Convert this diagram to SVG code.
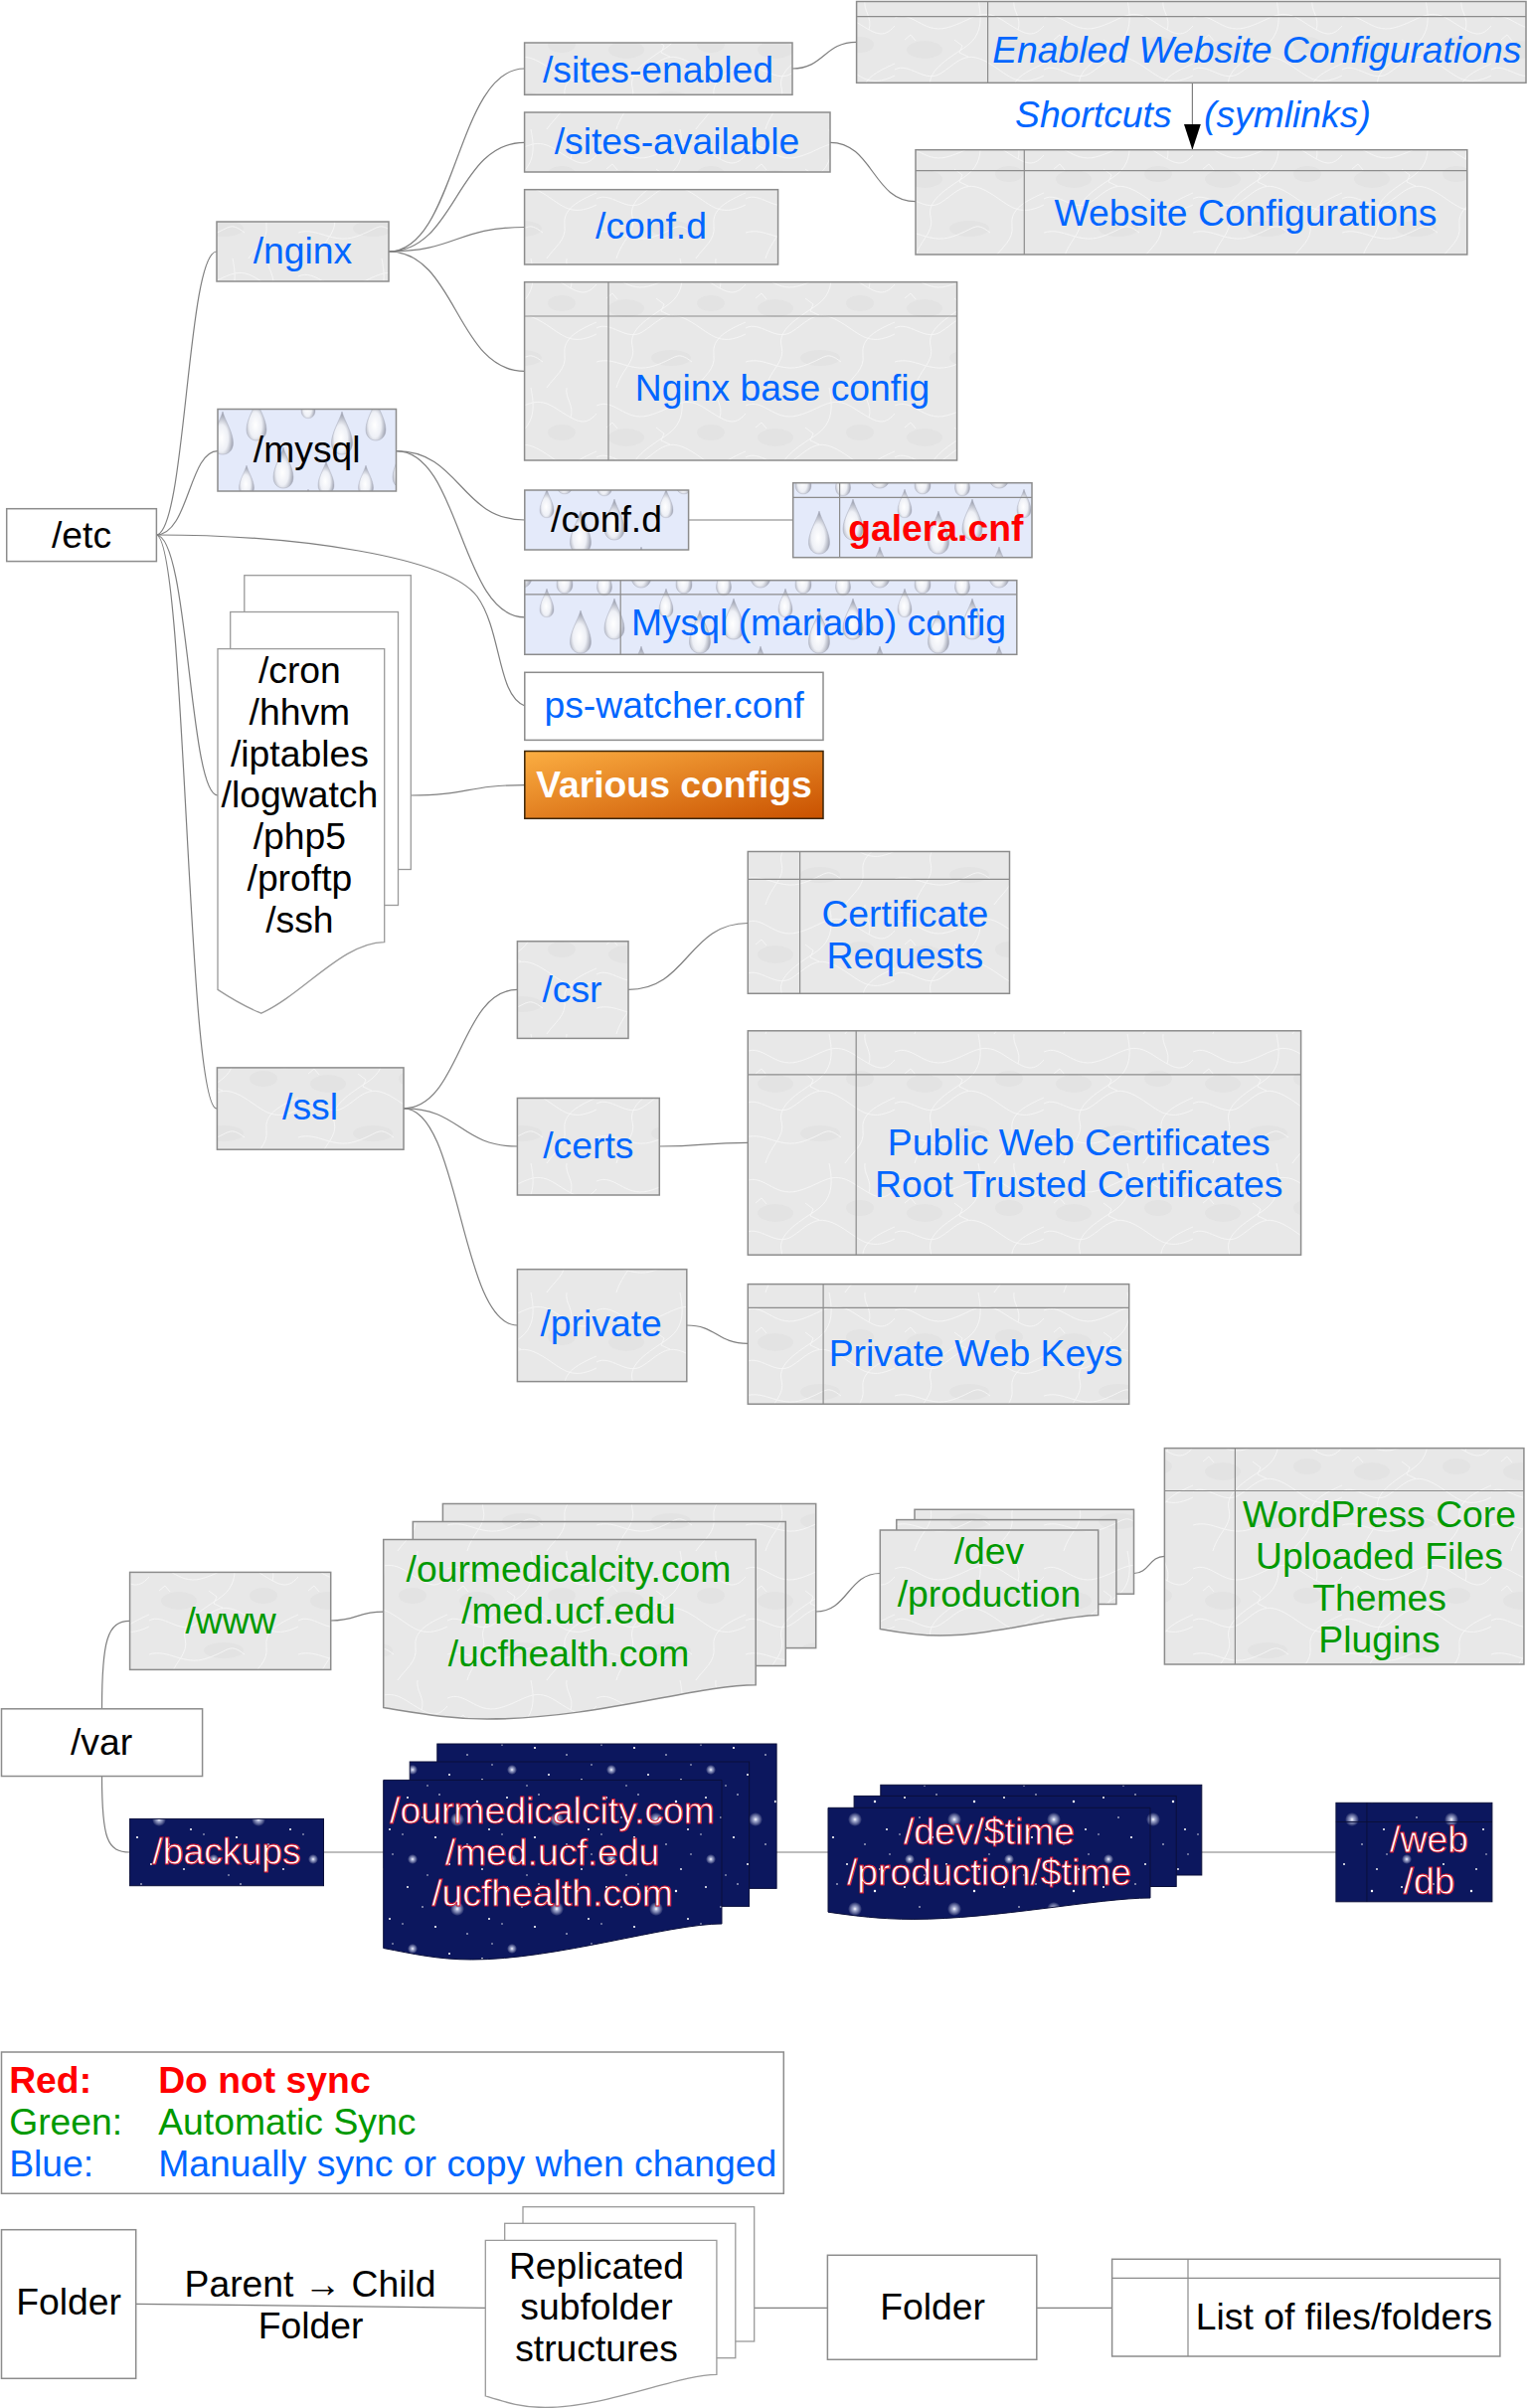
<svg xmlns="http://www.w3.org/2000/svg" width="1537" height="2422" viewBox="0 0 1537 2422">
<defs>
<style>
.t{font-family:"Liberation Sans",Arial,sans-serif;font-size:37.3px;text-anchor:middle}
.st{text-anchor:start}
.bl{fill:#0066ff}
.gr{fill:#009900}
.rd{fill:#ff0000}
.bk{fill:#000}
.wh{fill:#fff}
.it{font-style:italic}
.bd{font-weight:bold}
.ol{fill:#fff;stroke:#d0102c;stroke-width:0.9px}
.box{stroke:#8c8c8c;stroke-width:1.5}
.m{fill:url(#marble)}
.d{fill:url(#drops)}
.w{fill:#fff}
.s{fill:url(#stars);stroke:#0a0f3a;stroke-width:1}
.ln{fill:none;stroke:#8c8c8c;stroke-width:1.2}
.sln{fill:none;stroke:#0a0f3a;stroke-width:1}
.pg{fill:#fff;stroke:#9a9a9a;stroke-width:1.3}
.c{fill:none;stroke:#7f7f7f;stroke-width:1.2}
</style>
<pattern id="marble" patternUnits="userSpaceOnUse" width="150" height="130">
<rect width="150" height="130" fill="#e8e8e8"/>
<g fill="#dedede" opacity="0.5">
<ellipse cx="30" cy="50" rx="18" ry="9"/>
<ellipse cx="115" cy="45" rx="14" ry="8"/>
<ellipse cx="75" cy="100" rx="20" ry="8"/>
</g>
<g fill="none" stroke="#f7f7f7" stroke-width="1" opacity="0.85">
<path d="M0,18 C18,10 28,34 52,28 S86,6 108,20 S138,40 150,26"/>
<path d="M0,70 C14,62 30,84 46,74 S70,50 92,62 S122,90 150,76"/>
<path d="M20,130 C26,110 40,104 36,88 S52,60 70,48 S88,20 84,0"/>
<path d="M100,130 C108,118 120,112 118,96 S132,72 150,64"/>
<path d="M0,104 C20,98 34,116 58,108 S80,92 96,104"/>
<path d="M120,0 C118,10 128,18 124,30"/>
<path d="M60,40 l8,6 l-3,7 l9,4"/>
<path d="M10,40 l6,-5 l5,6"/>
</g>
</pattern>
<radialGradient id="dg" cx="0.45" cy="0.62" r="0.62">
<stop offset="0" stop-color="#ffffff"/>
<stop offset="0.5" stop-color="#eef0f6"/>
<stop offset="1" stop-color="#8a8fa0"/>
</radialGradient>
<path id="drop" d="M0,0 C2.8,10 10,20 10,30 C10,37 5.5,41 0,41 C-5.5,41 -10,37 -10,30 C-10,20 -2.8,10 0,0Z" fill="url(#dg)" stroke="#a8acbc" stroke-width="0.5"/>
<pattern id="drops" patternUnits="userSpaceOnUse" width="120" height="100">
<rect width="120" height="100" fill="#e4eafa"/>
<use href="#drop" x="18" y="2"/>
<use href="#drop" transform="translate(70,-8) scale(0.7)"/>
<use href="#drop" transform="translate(104,14) scale(1.05)"/>
<use href="#drop" transform="translate(45,50)"/>
<use href="#drop" transform="translate(88,64) scale(0.8)"/>
<use href="#drop" transform="translate(8,68) scale(0.75)"/>
<use href="#drop" transform="translate(70,92) scale(0.7)"/>
</pattern>
<radialGradient id="glow">
<stop offset="0" stop-color="#ffffff" stop-opacity="1"/>
<stop offset="0.3" stop-color="#dfe6ff" stop-opacity="0.7"/>
<stop offset="1" stop-color="#ffffff" stop-opacity="0"/>
</radialGradient>
<pattern id="stars" patternUnits="userSpaceOnUse" width="100" height="90">
<rect width="100" height="90" fill="#0c175e"/>
<circle cx="60" cy="30" r="7" fill="url(#glow)"/>
<circle cx="15" cy="70" r="5" fill="url(#glow)"/>
<g fill="#fff">
<circle cx="10" cy="8" r="1"/><circle cx="42" cy="5" r="0.8"/><circle cx="80" cy="12" r="1.2"/>
<circle cx="25" cy="28" r="0.8"/><circle cx="92" cy="40" r="1"/><circle cx="38" cy="48" r="1.1"/>
<circle cx="70" cy="55" r="0.8"/><circle cx="5" cy="45" r="0.7"/><circle cx="52" cy="75" r="1"/>
<circle cx="85" cy="80" r="0.9"/><circle cx="30" cy="86" r="0.7"/><circle cx="95" cy="65" r="0.7"/>
</g>
</pattern>
<linearGradient id="orange" x1="0" y1="0" x2="1" y2="1">
<stop offset="0" stop-color="#fbae42"/>
<stop offset="1" stop-color="#c95100"/>
</linearGradient>
<marker id="arr" markerUnits="userSpaceOnUse" markerWidth="27" markerHeight="18" refX="26" refY="8.5" orient="auto">
<path d="M0,0 L26,8.5 L0,17 Z" fill="#000"/>
</marker>
</defs>
<rect width="1537" height="2422" fill="#fff"/>

<g id="connectors">
<path class="c" d="M157,538 C187,538 188,253 218,253"/>
<path class="c" d="M157,538 C190,538 190,453.6 219,453.6"/>
<path class="c" d="M157,538 C300,538 450,560 480,600 C505,635 500,700 528,710"/>
<path class="c" d="M157,538 C190,538 190,800 219,800"/>
<path class="c" d="M157,538 C187,538 188,1115 218,1115"/>
<path class="c" d="M391,253 C459,253 459,69 527.6,69"/>
<path class="c" d="M391,253 C459,253 459,143.3 527.6,143.3"/>
<path class="c" d="M391,253 C459,253 459,228.5 527.6,228.5"/>
<path class="c" d="M391,253 C459,253 459,373.3 527.6,373.3"/>
<path class="c" d="M797,69 C829,69 829,42.3 861.6,42.3"/>
<path class="c" d="M835,143.3 C878,143.3 878,202.7 921,202.7"/>
<path class="c" d="M1199.4,83.3 V150.7" stroke="#444" marker-end="url(#arr)"/>
<path class="c" d="M398.5,453.6 C463,453.6 463,523 527.8,523"/>
<path class="c" d="M398.5,453.6 C463,453.6 463,620.8 527.8,620.8"/>
<path class="c" d="M692.6,523 H797.7"/>
<path class="c" d="M413.3,800 C470,800 470,789.6 527.8,789.6"/>
<path class="c" d="M406,1114.8 C463,1114.8 463,995.4 520.4,995.4"/>
<path class="c" d="M406,1114.8 C463,1114.8 463,1153 520.4,1153"/>
<path class="c" d="M406,1114.8 C463,1114.8 463,1333 520.4,1333"/>
<path class="c" d="M632,995.4 C692,995.4 692,928.5 752.3,928.5"/>
<path class="c" d="M663.3,1153 C708,1153 708,1149.3 752.3,1149.3"/>
<path class="c" d="M690.8,1333 C721,1333 721,1351.3 752.3,1351.3"/>
<path class="c" d="M102.5,1718.8 C102.5,1650 108,1630.4 130.6,1630.4"/>
<path class="c" d="M102.5,1786.5 C102.5,1850 108,1863 130.6,1863"/>
<path class="c" d="M332.7,1630 C359,1630 359,1621.2 385.7,1621.2"/>
<path class="c" d="M325.5,1863 H385.7"/>
<path class="c" d="M820.7,1621 C853,1621 853,1582.5 885.3,1582.5"/>
<path class="c" d="M1140.5,1582.5 C1156,1582.5 1156,1565.3 1171.4,1565.3"/>
<path class="c" d="M781,1863 H833"/>
<path class="c" d="M1208.8,1863 H1343.9"/>
<path class="c" d="M136.7,2317.3 L488.3,2321.3"/>
<path class="c" d="M758.7,2321.3 H832.4"/>
<path class="c" d="M1042.8,2321.3 H1118.6"/>
<text class="t it bl st" x="1021" y="128">Shortcuts</text>
<text class="t it bl st" x="1211" y="128">(symlinks)</text>
<text class="t bk" x="312" y="2310">Parent → Child</text>
<text class="t bk" x="312.5" y="2351.7">Folder</text>
</g>

<g id="node-sites-enabled">
<rect class="m box" x="527.6" y="43" width="269.4" height="52.3"/>
<text class="t bl" x="662" y="82.7">/sites-enabled</text>
</g>
<g id="node-sites-available">
<rect class="m box" x="527.6" y="113" width="307.4" height="60"/>
<text class="t bl" x="681" y="155">/sites-available</text>
</g>
<g id="node-nginx-confd">
<rect class="m box" x="527.6" y="190.7" width="255" height="75.3"/>
<text class="t bl" x="655" y="240">/conf.d</text>
</g>
<g id="node-nginx-base">
<rect class="m box" x="527.6" y="283.7" width="435" height="179.3"/>
<path class="ln" d="M527.6,318 H962.6 M612,283.7 V463"/>
<text class="t bl" x="787" y="403.3">Nginx base config</text>
</g>
<g id="node-enabled-configs">
<rect class="m box" x="861.6" y="1.5" width="673.4" height="81.8"/>
<path class="ln" d="M861.6,16.7 H1535 M993.6,1.5 V83.3"/>
<text class="t it bl" x="1264.3" y="62.5">Enabled Website Configurations</text>
</g>
<g id="node-website-configs">
<rect class="m box" x="921" y="150.7" width="554.8" height="105.3"/>
<path class="ln" d="M921,171.7 H1475.8 M1030.3,150.7 V256"/>
<text class="t bl" x="1253" y="226.7">Website Configurations</text>
</g>
<g id="node-nginx">
<rect class="m box" x="218" y="223" width="173" height="60"/>
<text class="t bl" x="304.5" y="265">/nginx</text>
</g>
<g id="node-mysql">
<rect class="d box" x="219" y="411.5" width="179.5" height="82.5"/>
<text class="t bk" x="308.7" y="465">/mysql</text>
</g>
<g id="node-etc">
<rect class="w box" x="6.7" y="511.7" width="150.7" height="52.9"/>
<text class="t bk" x="82" y="551.2">/etc</text>
</g>
<g id="node-mysql-confd">
<rect class="d box" x="527.8" y="493" width="164.8" height="60"/>
<text class="t bk" x="610" y="534.7">/conf.d</text>
</g>
<g id="node-galera">
<rect class="d box" x="797.7" y="485.7" width="240.3" height="75"/>
<path class="ln" d="M797.7,500.3 H1038 M844.6,485.7 V560.7"/>
<text class="t bd rd" x="941.3" y="543.5">galera.cnf</text>
</g>
<g id="node-mysql-config">
<rect class="d box" x="527.8" y="583.7" width="495" height="74.6"/>
<path class="ln" d="M527.8,597.9 H1022.8 M624.2,583.7 V658.3"/>
<text class="t bl" x="823.5" y="639">Mysql (mariadb) config</text>
</g>
<g id="node-ps-watcher">
<rect class="w box" x="527.8" y="676.3" width="300.2" height="68.1"/>
<text class="t bl" x="678" y="721.5">ps-watcher.conf</text>
</g>
<g id="node-various">
<rect x="527.8" y="755.5" width="300.2" height="67.8" fill="url(#orange)" stroke="#3b2508" stroke-width="1.5"/>
<text class="t bd wh" x="678" y="801.8">Various configs</text>
</g>
<g id="node-various-stack">
<rect class="pg" x="245.8" y="578.7" width="167.5" height="295.8"/>
<rect class="pg" x="231.7" y="615.5" width="168.8" height="295"/>
<path class="pg" d="M219,652.6 H386.7 V947.6 C345,947.6 305,1000 262.8,1019.2 C250,1014 232,1004 219,995.4 Z"/>
<text class="t bk" x="301.4" y="687">/cron</text>
<text class="t bk" x="301.4" y="728.8">/hhvm</text>
<text class="t bk" x="301.4" y="770.6">/iptables</text>
<text class="t bk" x="301.4" y="812.4">/logwatch</text>
<text class="t bk" x="301.4" y="854.2">/php5</text>
<text class="t bk" x="301.4" y="896">/proftp</text>
<text class="t bk" x="301.4" y="937.8">/ssh</text>
</g>
<g id="node-ssl">
<rect class="m box" x="218.4" y="1073.9" width="187.6" height="82.3"/>
<text class="t bl" x="312" y="1126.3">/ssl</text>
</g>
<g id="node-csr">
<rect class="m box" x="520.4" y="946.8" width="111.6" height="97.6"/>
<text class="t bl" x="575.5" y="1007.7">/csr</text>
</g>
<g id="node-certs">
<rect class="m box" x="520.4" y="1104.5" width="142.9" height="97.5"/>
<text class="t bl" x="591.8" y="1164.6">/certs</text>
</g>
<g id="node-private">
<rect class="m box" x="520.4" y="1276.7" width="170.4" height="112.9"/>
<text class="t bl" x="604.6" y="1344.4">/private</text>
</g>
<g id="node-cert-requests">
<rect class="m box" x="752.3" y="856.5" width="263.2" height="142.8"/>
<path class="ln" d="M752.3,884.4 H1015.5 M804.6,856.5 V999.3"/>
<text class="t bl" x="910.4" y="932.3">Certificate</text>
<text class="t bl" x="910.4" y="974.4">Requests</text>
</g>
<g id="node-public-certs">
<rect class="m box" x="752.3" y="1036.8" width="556.3" height="225.4"/>
<path class="ln" d="M752.3,1080.8 H1308.6 M861.2,1036.8 V1262.2"/>
<text class="t bl" x="1085.2" y="1161.9">Public Web Certificates</text>
<text class="t bl" x="1085.2" y="1204">Root Trusted Certificates</text>
</g>
<g id="node-private-keys">
<rect class="m box" x="752.3" y="1291.6" width="383.4" height="120.6"/>
<path class="ln" d="M752.3,1315.4 H1135.7 M828.1,1291.6 V1412.2"/>
<text class="t bl" x="981.6" y="1374.3">Private Web Keys</text>
</g>
<g id="node-var">
<rect class="w box" x="1.5" y="1718.8" width="202.1" height="67.7"/>
<text class="t bk" x="102" y="1764.7">/var</text>
</g>
<g id="node-www">
<rect class="m box" x="130.6" y="1581.4" width="202.1" height="98"/>
<text class="t gr" x="232" y="1643">/www</text>
</g>
<g id="node-sites-stack">
<rect class="m box" x="445.4" y="1512.5" width="375.3" height="145.1"/>
<rect class="m box" x="415.3" y="1530.5" width="375" height="145"/>
<path class="m box" d="M385.7,1548.5 H760.2 V1694.7 C700,1694.7 600,1729 490,1729 C450,1729 420,1723 385.7,1717.6 Z"/>
<text class="t gr" x="572" y="1591.4">/ourmedicalcity.com</text>
<text class="t gr" x="572" y="1633.4">/med.ucf.edu</text>
<text class="t gr" x="572" y="1675.5">/ucfhealth.com</text>
</g>
<g id="node-env-stack">
<rect class="m box" x="920" y="1518.3" width="220.5" height="84.9"/>
<rect class="m box" x="901.8" y="1528.6" width="221.1" height="84.9"/>
<path class="m box" d="M885.3,1538.9 H1104.7 V1624.6 C1070,1624.6 1000,1645 945.6,1645 C925,1645 905,1642 885.3,1638.4 Z"/>
<text class="t gr" x="995" y="1573.4">/dev</text>
<text class="t gr" x="995" y="1615.5">/production</text>
</g>
<g id="node-wordpress">
<rect class="m box" x="1171.4" y="1456.6" width="361.5" height="217.4"/>
<path class="ln" d="M1171.4,1499.5 H1532.9 M1242.4,1456.6 V1674"/>
<text class="t gr" x="1387.5" y="1535.9">WordPress Core</text>
<text class="t gr" x="1387.5" y="1578">Uploaded Files</text>
<text class="t gr" x="1387.5" y="1620">Themes</text>
<text class="t gr" x="1387.5" y="1662.1">Plugins</text>
</g>
<g id="node-backups">
<rect class="s" x="130.6" y="1829.4" width="194.9" height="67.3"/>
<text class="t ol" x="228" y="1875">/backups</text>
</g>
<g id="node-backup-sites-stack">
<rect class="s" x="439.8" y="1754" width="341.3" height="145.4"/>
<rect class="s" x="412.2" y="1772" width="341.4" height="145.4"/>
<path class="s" d="M385.7,1790.4 H726 V1935 C672,1935 560,1971 474.5,1971 C440,1971 415,1965 385.7,1959.5 Z"/>
<text class="t ol" x="555.5" y="1833.6">/ourmedicalcity.com</text>
<text class="t ol" x="555.5" y="1875.7">/med.ucf.edu</text>
<text class="t ol" x="555.5" y="1917.4">/ucfhealth.com</text>
</g>
<g id="node-backup-time-stack">
<rect class="s" x="885.8" y="1795.3" width="323" height="90.7"/>
<rect class="s" x="859.1" y="1806.4" width="324.1" height="91.1"/>
<path class="s" d="M833,1818.3 H1157 V1909 C1105,1909 1000,1930.4 918.9,1930.4 C885,1930.4 860,1927 833,1923.2 Z"/>
<text class="t ol" x="995" y="1854.6">/dev/$time</text>
<text class="t ol" x="995" y="1895.6">/production/$time</text>
</g>
<g id="node-web-db">
<rect class="s" x="1343.9" y="1813.3" width="157" height="99.5"/>
<path class="sln" d="M1343.9,1832.5 H1500.9 M1374.9,1813.3 V1912.8"/>
<text class="t ol" x="1437.5" y="1863">/web</text>
<text class="t ol" x="1437.5" y="1905.2">/db</text>
</g>
<g id="legend-colors">
<rect class="w box" x="1.5" y="2064" width="786.8" height="142.3"/>
<text class="t st rd bd" x="9.2" y="2105">Red:</text>
<text class="t st rd bd" x="159.2" y="2105">Do not sync</text>
<text class="t st gr" x="9.2" y="2146.7">Green:</text>
<text class="t st gr" x="159.2" y="2146.7">Automatic Sync</text>
<text class="t st bl" x="9.2" y="2189">Blue:</text>
<text class="t st bl" x="159.2" y="2189">Manually sync or copy when changed</text>
</g>
<g id="legend-folder">
<rect class="w box" x="1.5" y="2242.7" width="135.2" height="149.6"/>
<text class="t bk" x="69" y="2328.3">Folder</text>
</g>
<g id="legend-replicated">
<rect class="pg" x="526" y="2219.7" width="232.7" height="135.3"/>
<rect class="pg" x="507.7" y="2236.3" width="232.1" height="135.4"/>
<path class="pg" d="M488.3,2253.3 H720.9 V2388.3 C683,2388.3 610,2421.5 548.5,2421.5 C525,2421.5 508,2416 488.3,2410 Z"/>
<text class="t bk" x="600" y="2291.7">Replicated</text>
<text class="t bk" x="600" y="2333.3">subfolder</text>
<text class="t bk" x="600" y="2375">structures</text>
</g>
<g id="legend-folder2">
<rect class="w box" x="832.4" y="2268.3" width="210.4" height="105"/>
<text class="t bk" x="938" y="2333.3">Folder</text>
</g>
<g id="legend-list">
<rect class="w box" x="1118.6" y="2272.3" width="390.3" height="97.7"/>
<path class="ln" d="M1118.6,2291.3 H1508.9 M1195,2272.3 V2370"/>
<text class="t bk" x="1352" y="2342.7">List of files/folders</text>
</g>
</svg>
